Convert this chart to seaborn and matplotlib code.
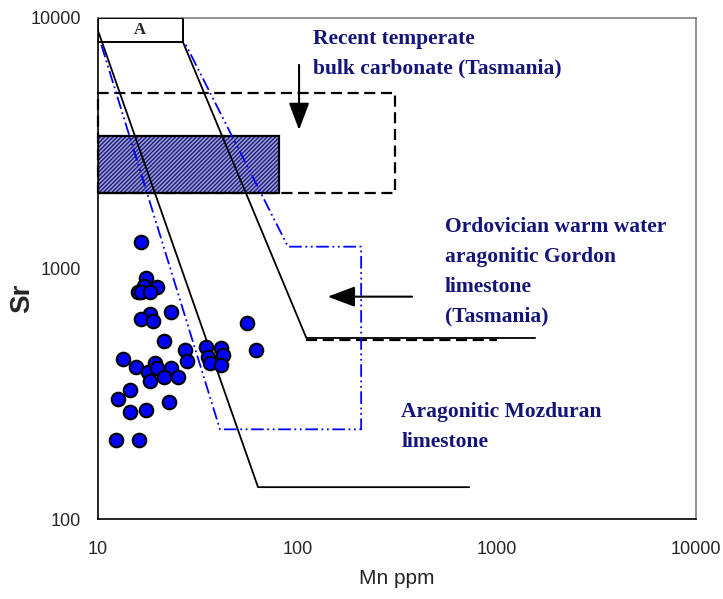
import pandas as pd
import seaborn as sns
import matplotlib.pyplot as plt
from matplotlib.patches import Rectangle
from matplotlib.ticker import FuncFormatter, LogLocator, NullFormatter

# samples (Mn ppm, Sr ppm)
mn = [16.4, 17.5, 17.1, 19.8, 15.9, 16.4, 18.2, 18.2, 16.4, 18.9,
      23.2, 21.4, 27.4, 27.9, 35.0, 41.3, 35.8, 42.2, 36.5, 41.4,
      56.1, 62.3, 13.3, 15.5, 19.4, 17.8, 19.8, 23.2, 21.4, 25.3,
      18.2, 14.5, 12.6, 22.7, 14.5, 17.5, 12.3, 16.1]
sr = [1280, 920, 855, 845, 805, 805, 805, 660, 627, 617,
      670, 514, 473, 427, 487, 480, 443, 450, 421, 413,
      606, 473, 434, 406, 421, 386, 401, 401, 369, 369,
      354, 326, 300, 292, 268, 272, 207, 207]

# field A box
box_a_mn = [10, 26.7]
box_a_sr = [8000, 10000]

# Ordovician Gordon limestone field (black solid)
left_line_mn = [10, 63.5, 728]
left_line_sr = [8900, 134, 134]
right_line_mn = [26.7, 111, 1560]
right_line_sr = [8000, 528, 528]
gordon_dash_mn = [111, 1000]
gordon_dash_sr = [518, 518]

# Mozduran field (blue dash-dot)
moz_mn = [10.4, 40.9, 209, 209, 89.8, 27.3]
moz_sr = [7800, 228, 228, 1222, 1222, 7944]

# Recent temperate bulk carbonate (dashed box)
recent_mn = [10, 310]
recent_sr = [2000, 5000]

# hatched field
hatch_mn = [10, 80.9]
hatch_sr = [2000, 3390]

sns.set_style('white')
plt.rcParams['font.family'] = ['Liberation Sans', 'DejaVu Sans']
plt.rcParams['hatch.linewidth'] = 1.0

fig, ax = plt.subplots(figsize=(7.23, 5.99), dpi=100)
fig.subplots_adjust(left=98/723, right=696/723, bottom=1-519/599, top=1-18/599)

navy = '#141478'
serif = ['Liberation Serif', 'DejaVu Serif']

# hatched rectangle
ax.add_patch(Rectangle((hatch_mn[0], hatch_sr[0]), hatch_mn[1]-hatch_mn[0], hatch_sr[1]-hatch_sr[0],
                       facecolor='#a0a0d4', edgecolor='#1a1a80', hatch='////////', lw=0, zorder=1))
ax.add_patch(Rectangle((hatch_mn[0], hatch_sr[0]), hatch_mn[1]-hatch_mn[0], hatch_sr[1]-hatch_sr[0],
                       fill=False, edgecolor='black', lw=1.6, zorder=2))

# dashed box
ax.add_patch(Rectangle((recent_mn[0], recent_sr[0]), recent_mn[1]-recent_mn[0], recent_sr[1]-recent_sr[0],
                       fill=False, edgecolor='black', lw=1.6, ls=(0, (5, 2.5)), zorder=2, clip_on=False))

# box A
ax.add_patch(Rectangle((box_a_mn[0], box_a_sr[0]), box_a_mn[1]-box_a_mn[0], box_a_sr[1]-box_a_sr[0],
                       facecolor='white', edgecolor='black', lw=1.4, zorder=3))
ax.text(16.3, 8944, 'A', ha='center', va='center', fontsize=12, fontweight='bold', family=serif, zorder=4)

ax.plot(left_line_mn, left_line_sr, color='black', lw=1.3, zorder=3)
ax.plot(right_line_mn, right_line_sr, color='black', lw=1.3, zorder=3)
ax.plot(gordon_dash_mn, gordon_dash_sr, color='black', lw=1.6, ls=(0, (5, 2.5)), zorder=3)
ax.plot(moz_mn, moz_sr, color='#0000ff', lw=1.3, dashes=(7, 2, 1, 2, 1, 2), zorder=3)

sns.scatterplot(x=mn, y=sr, ax=ax, color='#0000ff', edgecolor='black', linewidth=1.5, s=95, zorder=5)

# arrows
ax.annotate('', xy=(102, 3570), xytext=(102, 6500),
            arrowprops=dict(arrowstyle='-|>,head_length=1.2,head_width=0.45', color='black', lw=1.5,
                            shrinkA=0, shrinkB=0, mutation_scale=14))
ax.annotate('', xy=(142, 772), xytext=(376, 772),
            arrowprops=dict(arrowstyle='-|>,head_length=1.2,head_width=0.45', color='black', lw=1.5,
                            shrinkA=0, shrinkB=0, mutation_scale=14))

txt = dict(color=navy, fontsize=15.5, fontweight='bold', family=serif, va='top', ha='left',
           linespacing=1.66, transform=ax.transAxes)
ax.text(0.3595, 0.978, 'Recent temperate\nbulk carbonate (Tasmania)', **txt)
ax.text(0.580, 0.603, 'Ordovician warm water\naragonitic Gordon\nlimestone\n(Tasmania)', **txt)
ax.text(0.507, 0.234, 'Aragonitic Mozduran\nlimestone', **txt)

ax.set_xscale('log')
ax.set_yscale('log')
ax.set_xlim(10, 10000)
ax.set_ylim(100, 10000)
fmt = FuncFormatter(lambda v, _: f'{v:g}')
ax.xaxis.set_major_formatter(fmt)
ax.yaxis.set_major_formatter(fmt)
ax.xaxis.set_minor_formatter(NullFormatter())
ax.yaxis.set_minor_formatter(NullFormatter())
ax.tick_params(axis='both', which='major', direction='in', length=5, width=1, labelsize=13, color='black')
ax.tick_params(axis='both', which='minor', direction='in', length=3, width=0.8, color='black')
ax.tick_params(axis='x', which='major', pad=16)
ax.tick_params(axis='y', which='major', pad=12)

ax.set_xlabel('Mn ppm', fontsize=15, labelpad=8)
ax.set_ylabel('Sr', fontsize=20, fontweight='bold')
ax.yaxis.set_label_coords(-0.105, 0.441)

for side in ['top', 'right']:
    ax.spines[side].set_color('#808080')
    ax.spines[side].set_linewidth(1.2)
for side in ['left', 'bottom']:
    ax.spines[side].set_color('black')
    ax.spines[side].set_linewidth(1.2)

plt.savefig('out.png', dpi=100)
